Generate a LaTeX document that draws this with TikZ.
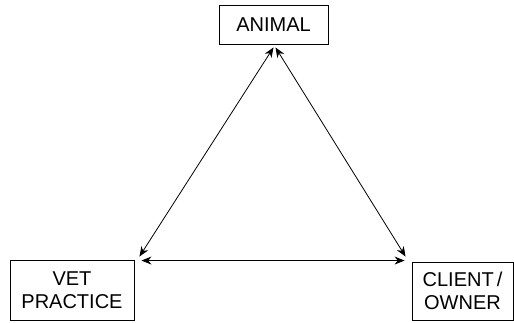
\documentclass[tikz,border=0pt]{standalone}
\usepackage{fontspec}
\setmainfont{Liberation Sans}
\usetikzlibrary{arrows.meta,calc}
\begin{document}
\begin{tikzpicture}[x=1pt,y=-1pt,
  party/.style={draw,line width=0.9pt,inner sep=0pt,align=center,
    font=\fontsize{20}{23.5}\selectfont},
  link/.style={line width=0.8pt,{Stealth[length=10pt,width=8pt]}-{Stealth[length=10pt,width=8pt]}}]
  \useasboundingbox (0,0) rectangle (514,322);
  % the three parties
  \node[party,minimum width=109pt,minimum height=39pt] (animal) at (273.5,24.5) {ANIMAL};
  \node[party,minimum width=124pt,minimum height=60pt] (vet) at (72,290) {VET\\PRACTICE};
  \node[party,minimum width=101pt,minimum height=58pt] (client) at (462.5,291) {CLIENT\kern3pt/\\OWNER};
  % connector end points just outside the boxes
  \coordinate (aL) at ($(animal.south)+(0,3)$);
  \coordinate (aR) at ($(animal.south)+(2,3)$);
  \coordinate (vD) at ($(vet.north east)+(5,-3)$);
  \coordinate (vH) at ($(vet.north east)+(7,1)$);
  \coordinate (cD) at ($(client.north west)+(-6,-5)$);
  \coordinate (cH) at ($(client.north west)+(-7,-1)$);
  % two-way relationships
  \draw[link] (aL) -- (vD);
  \draw[link] (aR) -- (cD);
  \draw[link] (vH) -- (cH);
\end{tikzpicture}
\end{document}
